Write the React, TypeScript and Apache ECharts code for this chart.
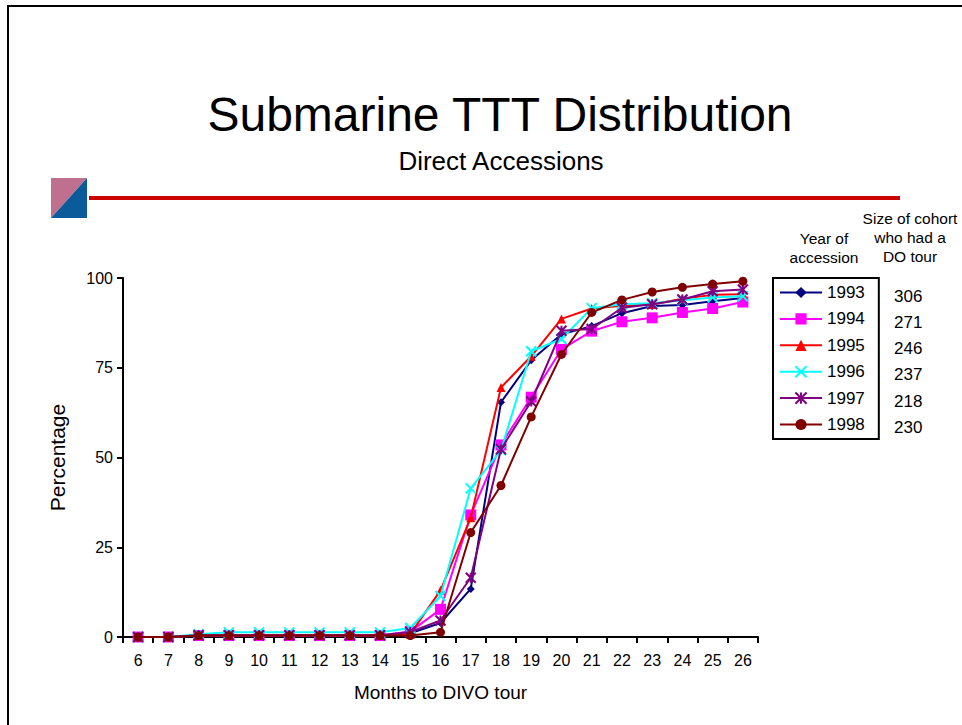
import React, { useEffect, useRef } from "react";
import * as echarts from "echarts";

const months = ["6","7","8","9","10","11","12","13","14","15","16","17","18","19","20","21","22","23","24","25","26"];
const years = ["1993","1994","1995","1996","1997","1998"];
const cohortSizes = ["306","271","246","237","218","230"];
const s1993 = [0,0,0.3,0.3,0.3,0.3,0.3,0.3,0.3,1,3.9,13.4,65.4,77.1,84.3,86.6,90.2,92.2,92.5,93.5,94.4];
const s1994 = [0,0,0.4,0.4,0.4,0.4,0.4,0.4,0.4,1.5,7.7,34,53.5,66.8,80.1,85.2,87.8,88.9,90.4,91.5,93.3];
const s1995 = [0,0,0.4,0.4,0.4,0.4,0.4,0.4,0.4,0.8,13,33.2,69.5,78.2,88.6,91.5,92.3,92.6,94.2,95.3,95.5];
const s1996 = [0,0,0.8,1.3,1.3,1.3,1.3,1.3,1.3,2.5,11.4,41.4,52,79.6,83,91.6,92.7,93,93.8,94.6,94.9];
const s1997 = [0,0,0.5,0.5,0.5,0.5,0.5,0.5,0.5,1.4,4.6,16.5,52.3,65.6,85.3,85.8,91.7,92.7,94,96.3,96.8];
const s1998 = [0,0,0.4,0.4,0.4,0.4,0.4,0.4,0.4,0.4,1.3,29.1,42.2,61.3,78.7,90.4,93.9,96.1,97.4,98.3,99.1];
const yTicks = [0, 25, 50, 75, 100];

const FONT = "Liberation Sans, Arial, sans-serif";

export default function App() {
  const ref = useRef<HTMLDivElement>(null);
  useEffect(() => {
    if (!ref.current) return;
    const chart = echarts.init(ref.current, undefined, { renderer: "svg" });
    const seriesData = [s1993, s1994, s1995, s1996, s1997, s1998];
    const colors = ["#000080", "#FF00FF", "#FF0000", "#00FFFF", "#800080", "#800000"];
    const symbols = [
      "diamond",
      "rect",
      "triangle",
      "path://M0,0L10,10M10,0L0,10",
      "path://M0,0L10,10M10,0L0,10M5,0L5,10",
      "circle",
    ];
    const sizes = [8, 11, 9, 10, 10, 9];
    const series = years.map((y, i) => ({
      name: y,
      type: "line",
      data: seriesData[i],
      symbol: symbols[i],
      symbolSize: sizes[i],
      lineStyle: { color: colors[i], width: 2 },
      itemStyle: { color: colors[i], borderColor: colors[i], borderWidth: i === 3 || i === 4 ? 2 : 0 },
      z: 2 + i,
    }));
    const countTexts = cohortSizes.map((c, i) => ({
      type: "text",
      x: 894,
      y: 296 + i * 26.3,
      style: { text: c, fontSize: 17, fontFamily: FONT, fill: "#000", verticalAlign: "middle" },
    }));
    chart.setOption({
      animation: false,
      backgroundColor: "#fff",
      textStyle: { fontFamily: FONT },
      title: [
        {
          text: "Submarine TTT Distribution",
          left: 495,
          textAlign: "center",
          top: 85,
          textStyle: { fontSize: 48, fontWeight: "normal", color: "#000", fontFamily: FONT },
        },
        {
          text: "Direct Accessions",
          left: 496,
          textAlign: "center",
          top: 143,
          textStyle: { fontSize: 26, fontWeight: "normal", color: "#000", fontFamily: FONT },
        },
      ],
      legend: {
        orient: "vertical",
        left: 773,
        top: 278,
        data: years,
        itemWidth: 42,
        itemHeight: 14,
        itemGap: 9.4,
        padding: [6, 14, 6, 6],
        borderColor: "#000",
        borderWidth: 2,
        textStyle: { fontSize: 17, color: "#000", fontFamily: FONT },
      },
      grid: { left: 123, top: 278, right: 204, bottom: 88 },
      xAxis: {
        type: "category",
        data: months,
        boundaryGap: true,
        name: "Months to DIVO tour",
        nameLocation: "middle",
        nameGap: 46,
        nameTextStyle: { fontSize: 19, color: "#000", fontFamily: FONT },
        axisLine: { lineStyle: { color: "#000", width: 2 } },
        axisTick: { show: true, length: 6, lineStyle: { color: "#000", width: 2 }, alignWithLabel: false },
        axisLabel: { fontSize: 16, color: "#000", margin: 15, fontFamily: FONT },
        splitLine: { show: false },
      },
      yAxis: {
        type: "value",
        min: 0,
        max: 100,
        interval: 25,
        name: "Percentage",
        nameLocation: "middle",
        nameRotate: 90,
        nameGap: 55,
        nameTextStyle: { fontSize: 21, color: "#000", fontFamily: FONT },
        axisLine: { show: true, lineStyle: { color: "#000", width: 2 } },
        axisTick: { show: true, length: 6, lineStyle: { color: "#000", width: 2 } },
        axisLabel: {
          fontSize: 16,
          color: "#000",
          margin: 10,
          fontFamily: FONT,
          formatter: (v: number) => (yTicks.includes(v) ? String(v) : ""),
        },
        splitLine: { show: false },
      },
      graphic: [
        {
          type: "rect",
          shape: { x: 8, y: 6, width: 1000, height: 1000 },
          style: { fill: "none", stroke: "#000", lineWidth: 2 },
          silent: true,
        },
        {
          type: "polygon",
          shape: { points: [[51, 178], [87, 178], [51, 218]] },
          style: { fill: "#c0708f" },
        },
        {
          type: "polygon",
          shape: { points: [[87, 178], [87, 218], [51, 218]] },
          style: { fill: "#0b5a9a" },
        },
        {
          type: "line",
          shape: { x1: 89, y1: 198, x2: 900, y2: 198 },
          style: { stroke: "#cc0000", lineWidth: 4 },
        },
        {
          type: "text",
          x: 824,
          y: 229,
          style: { text: "Year of\naccession", fontSize: 15.5, lineHeight: 19, align: "center", verticalAlign: "top", fontFamily: FONT, fill: "#000" },
        },
        {
          type: "text",
          x: 910,
          y: 209,
          style: { text: "Size of cohort\nwho had a\nDO tour", fontSize: 15.5, lineHeight: 19, align: "center", verticalAlign: "top", fontFamily: FONT, fill: "#000" },
        },
        ...countTexts,
      ],
      series,
    });
    return () => chart.dispose();
  }, []);
  return (
    <div
      ref={ref}
      style={{ position: "fixed", left: 0, top: 0, width: 962, height: 725 }}
    />
  );
}
